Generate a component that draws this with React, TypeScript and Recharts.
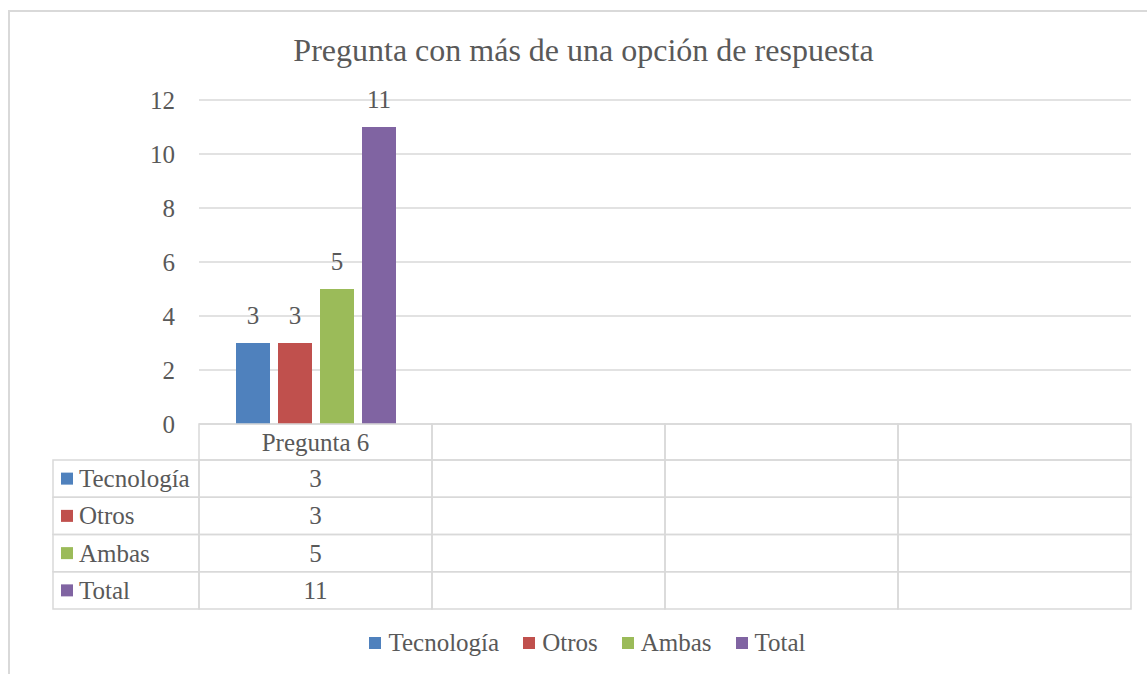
import { BarChart, Bar, XAxis, YAxis, CartesianGrid, Legend, LabelList } from 'recharts';

// categorías del eje X (solo la primera tiene datos)
const categories = ['Pregunta 6', '', '', ''];

const seriesNames = ['Tecnología', 'Otros', 'Ambas', 'Total'];
const tecnologia = [3, null, null, null];
const otros = [3, null, null, null];
const ambas = [5, null, null, null];
const total = [11, null, null, null];
const seriesValues = [tecnologia, otros, ambas, total];

const yTicks = [0, 2, 4, 6, 8, 10, 12];

const COLORS = ['#4F81BD', '#C0504D', '#9BBB59', '#8064A2'];
const TEXT = '#595959';
const GRID = '#D9D9D9';
const FONT = '"Liberation Serif", serif';
const FS = 25;

const data = categories.map((name, i) => {
  const row: any = { name };
  seriesNames.forEach((s, k) => {
    row[s] = seriesValues[k][i];
  });
  return row;
});

// tabla de datos dibujada bajo cada categoría del eje X
function TableTick(props: any) {
  const { x, y, payload, index } = props;
  const half = payload.offset || 116.5;
  const left = x - half;
  const w = half * 2;
  const headerH = 36;
  const rowH = 37.25;
  const labelW = 146;
  return (
    <g>
      <rect x={left} y={y} width={w} height={headerH} fill="none" stroke={GRID} strokeWidth={1.5} />
      <text x={x} y={y + headerH / 2} textAnchor="middle" dominantBaseline="central" fill={TEXT} fontSize={FS} fontFamily={FONT}>
        {payload.value}
      </text>
      {seriesNames.map((s, r) => {
        const top = y + headerH + r * rowH;
        const v = seriesValues[r][index];
        return (
          <g key={s}>
            <rect x={left} y={top} width={w} height={rowH} fill="none" stroke={GRID} strokeWidth={1.5} />
            <text x={x} y={top + rowH / 2} textAnchor="middle" dominantBaseline="central" fill={TEXT} fontSize={FS} fontFamily={FONT}>
              {v == null ? '' : v}
            </text>
            {index === 0 && (
              <g>
                <rect x={left - labelW} y={top} width={labelW} height={rowH} fill="none" stroke={GRID} strokeWidth={1.5} />
                <rect x={left - labelW + 8} y={top + rowH / 2 - 6} width={12} height={12} fill={COLORS[r]} />
                <text x={left - labelW + 26} y={top + rowH / 2} dominantBaseline="central" fill={TEXT} fontSize={FS} fontFamily={FONT}>
                  {s}
                </text>
              </g>
            )}
          </g>
        );
      })}
    </g>
  );
}

function LegendContent() {
  return (
    <div style={{ display: 'flex', justifyContent: 'center', fontFamily: FONT, fontSize: FS, color: TEXT }}>
      {seriesNames.map((s, i) => (
        <span key={s} style={{ display: 'flex', alignItems: 'center', marginRight: i < seriesNames.length - 1 ? 24 : 0 }}>
          <span style={{ width: 12, height: 12, background: COLORS[i], marginRight: 7, display: 'inline-block' }} />
          {s}
        </span>
      ))}
    </div>
  );
}

export default function App() {
  return (
    <div style={{ position: 'relative', width: 1147, height: 674 }}>
      <style>{'body{margin:0}'}</style>
      <div
        style={{
          position: 'absolute',
          left: 8,
          top: 10,
          width: 1160,
          height: 700,
          border: `2px solid ${GRID}`,
          boxSizing: 'border-box',
        }}
      />
      <div
        style={{
          position: 'absolute',
          top: 32,
          left: 0,
          width: 1167,
          textAlign: 'center',
          fontFamily: FONT,
          fontSize: 32,
          color: TEXT,
        }}
      >
        Pregunta con más de una opción de respuesta
      </div>
      <div style={{ position: 'absolute', left: 0, top: 0 }}>
        <BarChart
          width={1147}
          height={674}
          data={data}
          margin={{ top: 100, right: 16, left: 0, bottom: 0 }}
          barSize={34}
          barGap={8}
        >
          <CartesianGrid vertical={false} stroke={GRID} strokeWidth={1.5} />
          <XAxis
            dataKey="name"
            height={250}
            axisLine={false}
            tickLine={false}
            tickSize={0}
            tickMargin={0}
            interval={0}
            tick={<TableTick />}
          />
          <YAxis
            width={199}
            domain={[0, 12]}
            ticks={yTicks}
            axisLine={false}
            tickLine={false}
            tickSize={0}
            tickMargin={24}
            tick={{ fill: TEXT, fontSize: FS, fontFamily: FONT }}
          />
          <Legend
            verticalAlign="middle"
            align="center"
            content={<LegendContent />}
            wrapperStyle={{ top: 629, left: 0, width: 1175 }}
          />
          {seriesNames.map((s, i) => (
            <Bar key={s} dataKey={s} fill={COLORS[i]} isAnimationActive={false}>
              <LabelList dataKey={s} position="top" offset={19} fill={TEXT} fontSize={FS} fontFamily={FONT} />
            </Bar>
          ))}
        </BarChart>
      </div>
    </div>
  );
}
